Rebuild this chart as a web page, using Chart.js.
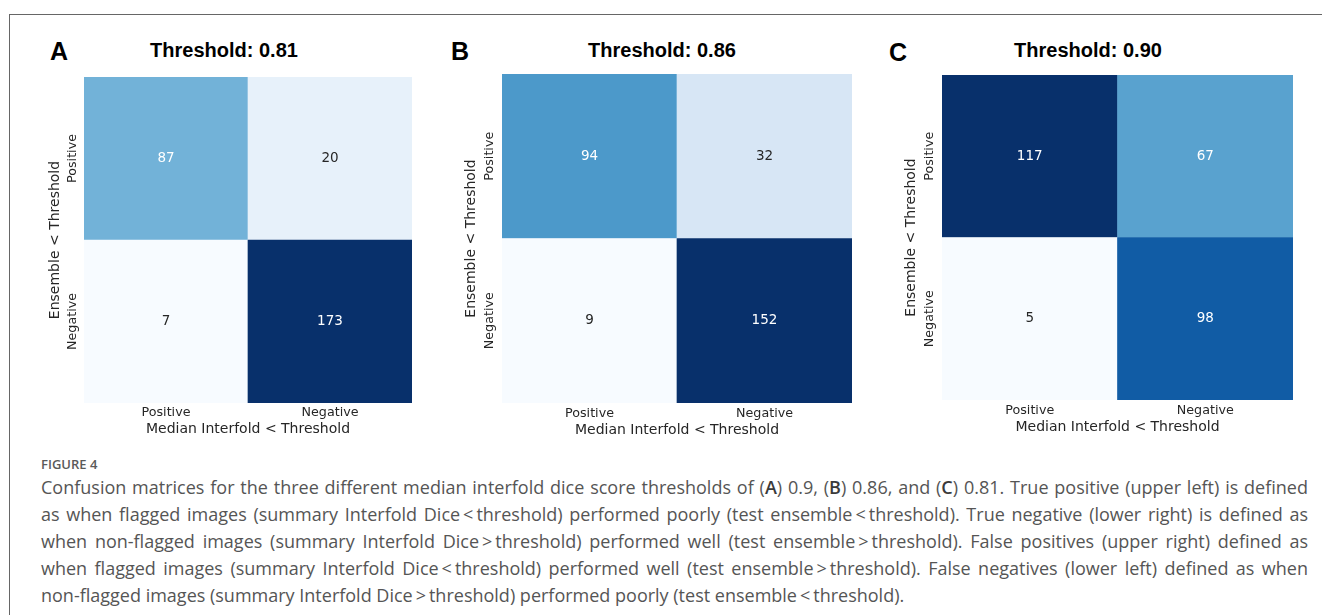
<!DOCTYPE html>
<html lang="en">
<head>
<meta charset="UTF-8">
<title>Figure 4 - Confusion matrices</title>
<script src="https://cdn.jsdelivr.net/npm/chart.js"></script>
<style>
body {
    margin: 0;
    width: 1322px;
    height: 615px;
    overflow: hidden;
    position: relative;
    background: #fff;
    font-family: "Open Sans", sans-serif;
}
.frame {
    position: absolute;
    left: 9px;
    top: 14px;
    right: -2px;
    bottom: -2px;
    border-top: 1px solid #666;
    border-left: 1px solid #666;
}
.letter {
    position: absolute;
    font: bold 25px/25px "Liberation Sans", Arial, sans-serif;
    color: #000;
}
.title {
    position: absolute;
    font: bold 20px/20px "Liberation Sans", Arial, sans-serif;
    color: #000;
    white-space: nowrap;
    transform: translateX(-50%);
}
canvas { position: absolute; }
.fig-label {
    position: absolute;
    left: 41px;
    top: 455px;
    font-size: 13px;
    line-height: 18px;
    font-weight: 600;
    color: #5a5a5a;
}
.caption {
    position: absolute;
    left: 41px;
    top: 474px;
    width: 1267px;
    font-size: 18px;
    line-height: 27px;
    color: #555;
}
.caption .line { white-space: nowrap; }
.caption b { font-weight: 600; color: #3a3a3a; }
</style>
</head>
<body>
<div class="frame"></div>

<div class="letter" style="left:50px; top:39px">A</div>
<div class="letter" style="left:451px; top:39px">B</div>
<div class="letter" style="left:889px; top:40px">C</div>

<div class="title" id="titleA" style="left:224px; top:40px"></div>
<div class="title" id="titleB" style="left:662px; top:40px"></div>
<div class="title" id="titleC" style="left:1088px; top:40px"></div>

<canvas id="cmA"></canvas>
<canvas id="cmB"></canvas>
<canvas id="cmC"></canvas>

<div class="fig-label">FIGURE 4</div>
<div class="caption">
    <div class="line"><span>Confusion matrices for the three different median interfold dice score thresholds of (<b>A</b>) 0.9, (<b>B</b>) 0.86, and (<b>C</b>) 0.81. True positive (upper left) is defined</span></div>
    <div class="line"><span>as when flagged images (summary Interfold Dice&thinsp;&lt;&thinsp;threshold) performed poorly (test ensemble&thinsp;&lt;&thinsp;threshold). True negative (lower right) is defined as</span></div>
    <div class="line"><span>when non-flagged images (summary Interfold Dice&thinsp;&gt;&thinsp;threshold) performed well (test ensemble&thinsp;&gt;&thinsp;threshold). False positives (upper right) defined as</span></div>
    <div class="line"><span>when flagged images (summary Interfold Dice&thinsp;&lt;&thinsp;threshold) performed well (test ensemble&thinsp;&gt;&thinsp;threshold). False negatives (lower left) defined as when</span></div>
    <div class="line last"><span>non-flagged images (summary Interfold Dice&thinsp;&gt;&thinsp;threshold) performed poorly (test ensemble&thinsp;&lt;&thinsp;threshold).</span></div>
</div>

<script>
// axis categories
const xLabels = ['Positive', 'Negative'];   // Median Interfold < Threshold
const yLabels = ['Positive', 'Negative'];   // Ensemble < Threshold, top row first
const thresholds = ['0.81', '0.86', '0.90'];

// counts, rows top -> bottom, columns left -> right
const countsA = [[87, 20], [7, 173]];
const countsB = [[94, 32], [9, 152]];
const countsC = [[117, 67], [5, 98]];

const xTitle = 'Median Interfold < Threshold';
const yTitle = 'Ensemble < Threshold';

// where each matrix sits on the page (left, top, right, bottom) and label gaps
const panels = [
    { id: 'A', counts: countsA, box: [84, 77, 412, 403],  yTick: 11,   yTitle: 28.5, xTick: 10, xTitle: 26 },
    { id: 'B', counts: countsB, box: [502, 74, 852, 403], yTick: 12.5, yTitle: 31,   xTick: 11, xTitle: 27 },
    { id: 'C', counts: countsC, box: [942, 75, 1293, 400], yTick: 12,  yTitle: 30.5, xTick: 11, xTitle: 27 }
];

const Y_AXIS_W = 45;
const X_AXIS_H = 40;
const TICK_SIZE = 12.7;
const TITLE_SIZE = 14;
const TEXT_DARK = '#262626';
const FONT = '"DejaVu Sans", sans-serif';

// matplotlib "Blues"
const bluesStops = ['#f7fbff', '#deebf7', '#c6dbef', '#9ecae1', '#6baed6', '#4292c6', '#2171b5', '#08519c', '#08306b'];

function hexToRgb(h) {
    return [parseInt(h.slice(1, 3), 16), parseInt(h.slice(3, 5), 16), parseInt(h.slice(5, 7), 16)];
}

function blues(t) {
    t = Math.max(0, Math.min(1, t));
    const pos = t * (bluesStops.length - 1);
    const i = Math.min(Math.floor(pos), bluesStops.length - 2);
    const f = pos - i;
    const a = hexToRgb(bluesStops[i]);
    const b = hexToRgb(bluesStops[i + 1]);
    return a.map((v, k) => Math.round(v + (b[k] - v) * f));
}

// same rule seaborn uses to pick the annotation colour
function luminance(rgb) {
    const lin = rgb.map(v => {
        v = v / 255;
        return v <= 0.03928 ? v / 12.92 : Math.pow((v + 0.055) / 1.055, 2.4);
    });
    return 0.2126 * lin[0] + 0.7152 * lin[1] + 0.0722 * lin[2];
}

const measureCtx = document.createElement('canvas').getContext('2d');
measureCtx.font = TICK_SIZE + 'px ' + FONT;
const widestTick = Math.max(...yLabels.map(l => measureCtx.measureText(l).width));

const cellLabels = {
    id: 'cellLabels',
    afterDatasetsDraw(chart) {
        const ctx = chart.ctx;
        ctx.save();
        ctx.font = '13.5px ' + FONT;
        ctx.textAlign = 'center';
        ctx.textBaseline = 'middle';
        chart.data.datasets.forEach((ds, i) => {
            chart.getDatasetMeta(i).data.forEach((bar, j) => {
                ctx.fillStyle = ds.textColors[j];
                ctx.fillText(String(ds.counts[j]), bar.x, (bar.y + bar.base) / 2);
            });
        });
        ctx.restore();
    }
};

panels.forEach((p, n) => {
    document.getElementById('title' + p.id).textContent = 'Threshold: ' + thresholds[n];

    const all = p.counts.flat();
    const lo = Math.min(...all), hi = Math.max(...all);

    // one stacked dataset per row, bottom row first
    const datasets = [];
    for (let r = yLabels.length - 1; r >= 0; r--) {
        const rgbs = p.counts[r].map(v => blues((v - lo) / (hi - lo)));
        datasets.push({
            label: yLabels[r],
            data: p.counts[r].map(() => 1),
            counts: p.counts[r],
            backgroundColor: rgbs.map(c => 'rgb(' + c.join(',') + ')'),
            textColors: rgbs.map(c => luminance(c) < 0.408 ? '#ffffff' : TEXT_DARK),
            borderWidth: 0,
            barPercentage: 1,
            categoryPercentage: 1
        });
    }

    const [l, t, r, b] = p.box;
    const canvas = document.getElementById('cm' + p.id);
    const left = l - Y_AXIS_W;
    canvas.width = r - left;
    canvas.height = b - t + X_AXIS_H;
    canvas.style.left = left + 'px';
    canvas.style.top = t + 'px';

    new Chart(canvas, {
        type: 'bar',
        data: { labels: xLabels, datasets: datasets },
        options: {
            responsive: false,
            animation: false,
            events: [],
            layout: { padding: 0 },
            plugins: { legend: { display: false }, title: { display: false }, tooltip: { enabled: false } },
            scales: {
                x: {
                    stacked: true,
                    grid: { display: false, drawTicks: false },
                    border: { display: false },
                    ticks: {
                        color: TEXT_DARK,
                        font: { family: FONT, size: TICK_SIZE },
                        padding: p.xTick - TICK_SIZE * 0.6,
                        maxRotation: 0
                    },
                    title: {
                        display: true,
                        text: xTitle,
                        color: TEXT_DARK,
                        font: { family: FONT, size: TITLE_SIZE },
                        padding: { top: 0, bottom: X_AXIS_H - TITLE_SIZE * 0.6 - p.xTitle }
                    },
                    afterFit: s => { s.height = X_AXIS_H; }
                },
                y: {
                    stacked: true,
                    min: 0,
                    max: yLabels.length,
                    grid: { display: false, drawTicks: false },
                    border: { display: false },
                    afterBuildTicks: s => {
                        s.ticks = yLabels.map((_, i) => ({ value: i + 0.5 }));
                    },
                    ticks: {
                        autoSkip: false,
                        minRotation: 90,
                        maxRotation: 90,
                        crossAlign: 'center',
                        padding: p.yTick - widestTick / 2,
                        color: TEXT_DARK,
                        font: { family: FONT, size: TICK_SIZE },
                        callback: v => yLabels[yLabels.length - 1 - Math.floor(v)]
                    },
                    title: {
                        display: true,
                        text: yTitle,
                        color: TEXT_DARK,
                        font: { family: FONT, size: TITLE_SIZE },
                        padding: { top: Y_AXIS_W - p.yTitle - TITLE_SIZE * 0.6, bottom: 0 }
                    },
                    afterFit: s => { s.width = Y_AXIS_W; }
                }
            }
        },
        plugins: [cellLabels]
    });
});

// justify caption lines to the full column width
document.querySelectorAll('.caption .line').forEach(line => {
    if (line.classList.contains('last')) return;
    const span = line.querySelector('span');
    const extra = line.clientWidth - span.getBoundingClientRect().width;
    const spaces = (span.textContent.match(/ /g) || []).length;
    span.style.wordSpacing = (extra / spaces) + 'px';
});
</script>
</body>
</html>
